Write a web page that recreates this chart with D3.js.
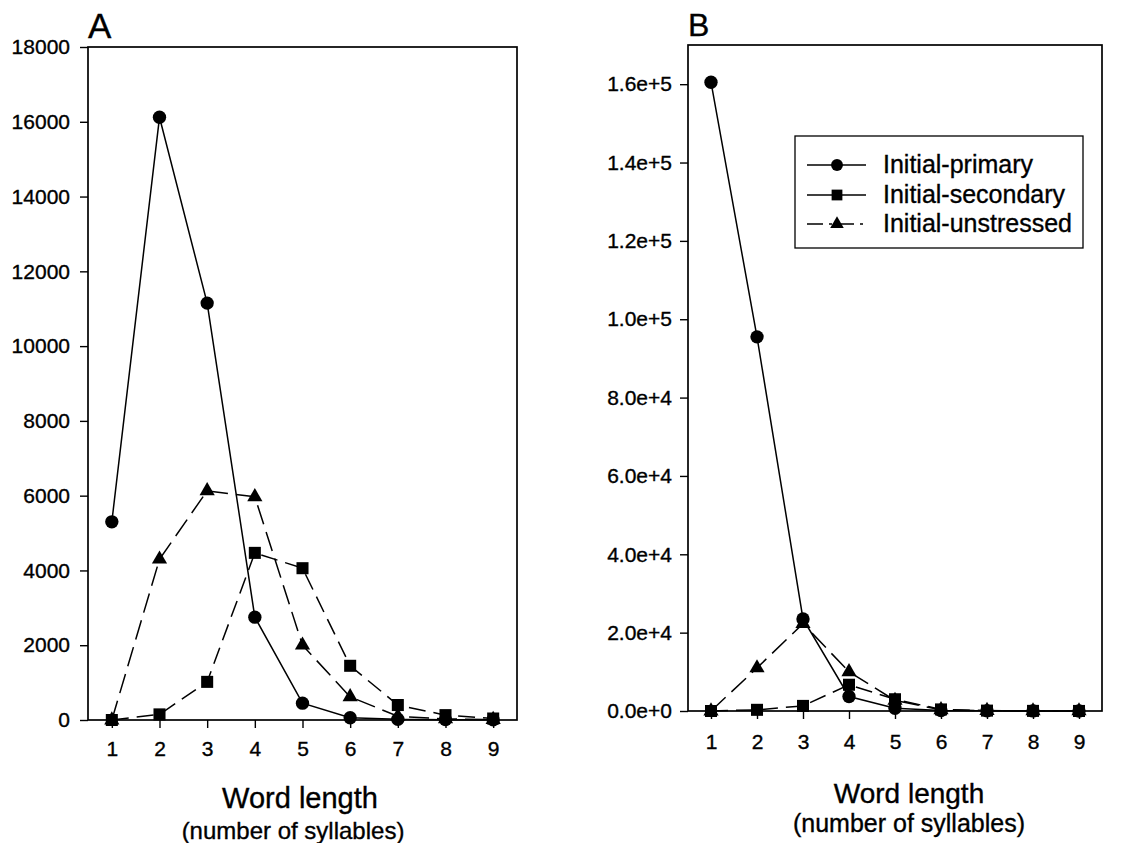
<!DOCTYPE html>
<html>
<head>
<meta charset="utf-8">
<script src="https://cdn.jsdelivr.net/npm/d3@7"></script>
<style>
  html, body { margin: 0; padding: 0; background: #fff; }
  svg { display: block; }
  text { font-family: "Liberation Sans", Arial, Helvetica, sans-serif; fill: #000; stroke: #000; stroke-width: 0.35px; }
</style>
</head>
<body>
<svg id="chart" width="1122" height="843"></svg>
<script>
// ---- data ----
const syllables = [1, 2, 3, 4, 5, 6, 7, 8, 9];
const seriesNames = ["Initial-primary", "Initial-secondary", "Initial-unstressed"];

const primaryA    = [5300, 16120, 11150, 2750, 450, 60, 20, 10, 5];
const secondaryA  = [0, 150, 1020, 4470, 4060, 1450, 400, 130, 40];
const unstressedA = [0, 4300, 6130, 5970, 2000, 620, 100, 30, 10];

const primaryB    = [160500, 95500, 23500, 3700, 700, 100, 50, 20, 10];
const secondaryB  = [0, 300, 1300, 6700, 3000, 400, 100, 30, 10];
const unstressedB = [0, 11000, 22300, 10000, 2700, 300, 100, 20, 10];

const yTicksA = [0, 2000, 4000, 6000, 8000, 10000, 12000, 14000, 16000, 18000];
const yTicksB = [0, 20000, 40000, 60000, 80000, 100000, 120000, 140000, 160000];
const yTickLabelsB = ["0.0e+0", "2.0e+4", "4.0e+4", "6.0e+4", "8.0e+4", "1.0e+5", "1.2e+5", "1.4e+5", "1.6e+5"];

// ---- drawing ----
const svg = d3.select("#chart");

const styles = [
  { symbol: d3.symbolCircle, size: 140, dash: null },
  { symbol: d3.symbolSquare, size: 145, dash: "17,8" },
  { symbol: d3.symbolTriangle, size: 100, dash: "20,8" }
];

function panel(cfg) {
  const x = d3.scaleLinear().domain([0.5, 9.5]).range([cfg.left, cfg.right]);
  const y = d3.scaleLinear().domain([0, cfg.ymax]).range([cfg.bottom, cfg.top]);
  const g = svg.append("g");

  // y axis
  const ya = g.append("g")
    .attr("transform", `translate(${cfg.left},0)`)
    .call(d3.axisLeft(y).tickValues(cfg.yTicks).tickSize(8).tickSizeOuter(0)
      .tickPadding(cfg.yPad).tickFormat(cfg.yFormat));
  ya.select(".domain").remove();
  ya.selectAll(".tick line").attr("stroke", "#000").attr("stroke-width", 1.4);
  ya.selectAll(".tick text").style("font-size", "21px").attr("fill", "#000");

  // x axis
  const xa = g.append("g")
    .attr("transform", `translate(0,${cfg.bottom})`)
    .call(d3.axisBottom(x).tickValues(syllables).tickSize(8).tickSizeOuter(0)
      .tickPadding(cfg.xPad).tickFormat(d3.format("d")));
  xa.select(".domain").remove();
  xa.selectAll(".tick line").attr("stroke", "#000").attr("stroke-width", 1.4);
  xa.selectAll(".tick text").style("font-size", "21px").attr("fill", "#000");

  // frame
  g.append("rect")
    .attr("x", cfg.left).attr("y", cfg.top)
    .attr("width", cfg.right - cfg.left).attr("height", cfg.bottom - cfg.top)
    .attr("fill", "none").attr("stroke", "#000").attr("stroke-width", 1.7);

  // series
  const line = d3.line().x((d, i) => x(syllables[i])).y(d => y(d));
  cfg.series.forEach((vals, si) => {
    const st = styles[si];
    g.append("path")
      .datum(vals)
      .attr("d", line)
      .attr("fill", "none")
      .attr("stroke", "#000")
      .attr("stroke-width", 1.5)
      .attr("stroke-dasharray", st.dash);
    g.selectAll(null)
      .data(vals)
      .enter().append("path")
      .attr("transform", (d, i) => `translate(${x(syllables[i])},${y(d)})`)
      .attr("d", d3.symbol().type(st.symbol).size(st.size))
      .attr("fill", "#000");
  });

  // panel letter
  g.append("text")
    .attr("x", cfg.left).attr("y", cfg.top - 9)
    .style("font-size", cfg.letterSize + "px")
    .text(cfg.letter);

  // axis titles
  g.append("text")
    .attr("x", cfg.titleX).attr("y", cfg.titleY)
    .attr("text-anchor", "middle")
    .style("font-size", cfg.titleSize + "px")
    .text("Word length");
  g.append("text")
    .attr("x", cfg.subX).attr("y", cfg.subY)
    .attr("text-anchor", "middle")
    .style("font-size", cfg.subSize + "px")
    .text("(number of syllables)");

  return { x, y, g };
}

panel({
  left: 88, right: 517, top: 47, bottom: 720, ymax: 18000,
  yTicks: yTicksA, yFormat: d3.format("d"), yPad: 10, xPad: 13,
  series: [primaryA, secondaryA, unstressedA],
  letter: "A", letterSize: 35,
  titleX: 300, titleY: 808, titleSize: 29,
  subX: 293, subY: 839, subSize: 24
});

panel({
  left: 688, right: 1102, top: 45, bottom: 711, ymax: 170000,
  yTicks: yTicksB, yFormat: (d, i) => yTickLabelsB[i], yPad: 8, xPad: 15,
  series: [primaryB, secondaryB, unstressedB],
  letter: "B", letterSize: 32,
  titleX: 909, titleY: 803, titleSize: 28,
  subX: 909, subY: 832, subSize: 25
});

// legend in panel B
const lg = svg.append("g");
lg.append("rect")
  .attr("x", 795).attr("y", 136).attr("width", 288).attr("height", 112)
  .attr("fill", "#fff").attr("stroke", "#000").attr("stroke-width", 1.3);
const rowY = [165, 195, 224];
seriesNames.forEach((name, i) => {
  const st = styles[i];
  lg.append("line")
    .attr("x1", 807).attr("x2", 866).attr("y1", rowY[i]).attr("y2", rowY[i])
    .attr("stroke", "#000").attr("stroke-width", 1.3)
    .attr("stroke-dasharray", i === 2 ? "16,6,3,6" : null);
  lg.append("path")
    .attr("transform", `translate(837,${rowY[i]})`)
    .attr("d", d3.symbol().type(st.symbol).size(st.size * 0.8))
    .attr("fill", "#000");
  lg.append("text")
    .attr("x", 883).attr("y", rowY[i] + 8)
    .style("font-size", "25px")
    .text(name);
});
</script>
</body>
</html>
